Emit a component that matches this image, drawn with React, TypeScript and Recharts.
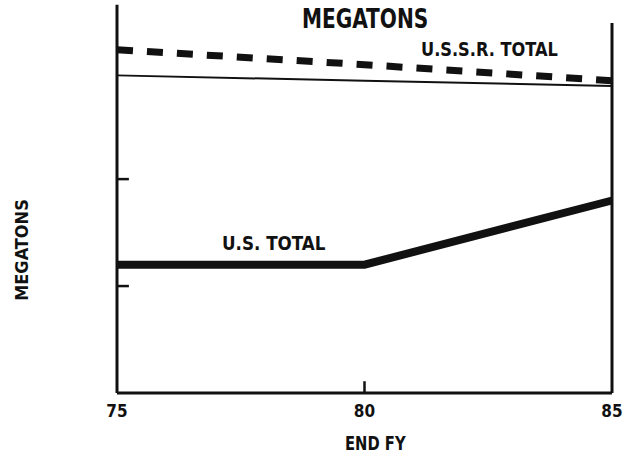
import { LineChart, Line, XAxis, YAxis, ReferenceLine } from "recharts";

// End of fiscal year
const years = [75, 80, 85];
// Megatons (no scale printed, read as relative units)
const ussrTotal = [32.1, 30.7, 29.2];
const ussrLower = [29.7, 29.2, 28.7];
const usTotal = [12, 12, 18];

const xTicks = [75, 80, 85];
const yTicks = [10, 20];

const FONT = '"DejaVu Sans Condensed", "Liberation Sans Narrow", sans-serif';
const INK = "#111";

const data = years.map((year, i) => ({
  year,
  ussr: ussrTotal[i],
  ussrLow: ussrLower[i],
  us: usTotal[i],
}));

const textStyle = {
  position: "absolute" as const,
  fontFamily: FONT,
  fontWeight: 700,
  color: INK,
  whiteSpace: "nowrap" as const,
  lineHeight: 1,
  transformOrigin: "left top",
};

export default function App() {
  return (
    <div style={{ position: "absolute", left: 0, top: 0, width: 627, height: 463, background: "#fff" }}>
      <LineChart width={627} height={463} data={data} margin={{ top: 8, right: 15, bottom: 0, left: 117 }}>
        <XAxis
          dataKey="year"
          type="number"
          domain={[75, 85]}
          ticks={xTicks}
          tickLine={false}
          tickSize={0}
          tickMargin={12}
          height={70}
          axisLine={{ stroke: INK, strokeWidth: 3 }}
          tick={{ fill: INK, fontFamily: FONT, fontWeight: 700, fontSize: 17 }}
        />
        <YAxis type="number" domain={[0, 36]} width={0} tick={false} tickLine={false} axisLine={false} />
        {/* frame: left and right verticals */}
        <ReferenceLine
          segment={[{ x: 75, y: 0 }, { x: 75, y: 36.3 }]}
          stroke={INK}
          strokeWidth={3}
          ifOverflow="visible"
        />
        <ReferenceLine segment={[{ x: 85, y: 0 }, { x: 85, y: 34.6 }]} stroke={INK} strokeWidth={3} />
        {/* inward tick marks */}
        {yTicks.map((t) => (
          <ReferenceLine key={t} segment={[{ x: 75, y: t }, { x: 75.24, y: t }]} stroke={INK} strokeWidth={2.5} />
        ))}
        <ReferenceLine segment={[{ x: 80, y: 0 }, { x: 80, y: 1.1 }]} stroke={INK} strokeWidth={2.5} />

        <Line dataKey="ussrLow" type="linear" stroke={INK} strokeWidth={2} dot={false} isAnimationActive={false} />
        <Line
          dataKey="ussr"
          type="linear"
          stroke={INK}
          strokeWidth={7}
          strokeDasharray="16 14"
          dot={false}
          isAnimationActive={false}
        />
        <Line dataKey="us" type="linear" stroke={INK} strokeWidth={8} dot={false} isAnimationActive={false} />
      </LineChart>

      <div style={{ ...textStyle, left: 302, top: 6, fontSize: 26, transform: "scaleX(0.86)" }}>MEGATONS</div>
      <div style={{ ...textStyle, left: 421, top: 39, fontSize: 20, transform: "scaleX(0.9)" }}>U.S.S.R. TOTAL</div>
      <div style={{ ...textStyle, left: 222, top: 233, fontSize: 20, transform: "scaleX(0.93)" }}>U.S. TOTAL</div>
      <div style={{ ...textStyle, left: 345, top: 433, fontSize: 20, transform: "scaleX(0.82)" }}>END FY</div>
      <div
        style={{
          ...textStyle,
          left: 22,
          top: 250,
          fontSize: 18,
          transformOrigin: "center center",
          transform: "translate(-50%, -50%) rotate(-90deg)",
        }}
      >
        MEGATONS
      </div>
    </div>
  );
}
